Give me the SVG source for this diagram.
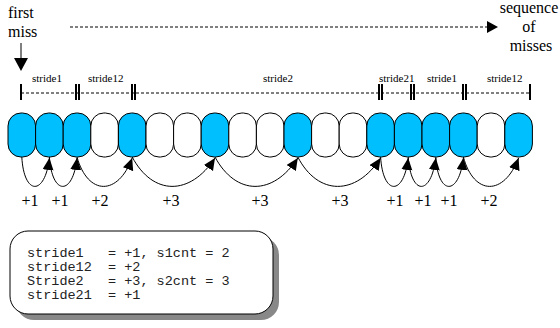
<svg xmlns="http://www.w3.org/2000/svg" width="560" height="328" viewBox="0 0 560 328">
<style>
.serif{font-family:Liberation Serif, DejaVu Serif, serif;fill:#000}
.big{font-size:16px}
.small{font-size:11px}
.cell{stroke:#000;stroke-width:1}
.blue{fill:#00bfff}
.white{fill:#fff}
.conn{fill:none;stroke:#000;stroke-width:1}
.dash{fill:none;stroke:#000;stroke-width:1;stroke-dasharray:3,2}
.tick{stroke:#000;stroke-width:2}
.mono{font-family:Liberation Mono, DejaVu Sans Mono, monospace;font-size:13.5px;fill:#222;white-space:pre}
</style>
<defs>
<marker id="ah" markerUnits="userSpaceOnUse" markerWidth="13" markerHeight="12" refX="12" refY="5.5" orient="auto">
<path d="M0,0 L12,5.5 L0,11 z" fill="#000"/>
</marker>
</defs>
<rect width="560" height="328" fill="#fff"/>

<g id="first-miss" font-family="Liberation Serif, serif">
<text class="serif big" x="8" y="18">first</text>
<text class="serif big" x="8" y="37">miss</text>
<line x1="21" y1="43" x2="21" y2="60" stroke="#000" stroke-width="1"/>
<path d="M14,58 L28,58 L21,71 z" fill="#000"/>
</g>

<g id="sequence" font-family="Liberation Serif, serif">
<line class="dash" x1="70" y1="27" x2="488" y2="27"/>
<path d="M487,21 L498,27 L487,33 z" fill="#000"/>
<text class="serif big" x="529" y="13" text-anchor="middle">sequence</text>
<text class="serif big" x="529" y="32" text-anchor="middle">of</text>
<text class="serif big" x="531" y="51" text-anchor="middle">misses</text>
</g>

<g id="strides" font-family="Liberation Serif, serif">
<line class="dash" x1="21" y1="93" x2="530" y2="93"/>
<line class="tick" x1="21" y1="84" x2="21" y2="100"/>
<line class="tick" x1="76" y1="84" x2="76" y2="100"/>
<line class="tick" x1="79" y1="84" x2="79" y2="100"/>
<line class="tick" x1="132" y1="84" x2="132" y2="100"/>
<line class="tick" x1="135" y1="84" x2="135" y2="100"/>
<line class="tick" x1="379" y1="84" x2="379" y2="100"/>
<line class="tick" x1="382" y1="84" x2="382" y2="100"/>
<line class="tick" x1="411" y1="84" x2="411" y2="100"/>
<line class="tick" x1="414" y1="84" x2="414" y2="100"/>
<line class="tick" x1="463" y1="84" x2="463" y2="100"/>
<line class="tick" x1="466" y1="84" x2="466" y2="100"/>
<line class="tick" x1="530" y1="84" x2="530" y2="100"/>
<text class="serif small" x="32" y="82">stride1</text>
<text class="serif small" x="88" y="82">stride12</text>
<text class="serif small" x="263" y="82">stride2</text>
<text class="serif small" x="379" y="82">stride21</text>
<text class="serif small" x="427" y="82">stride1</text>
<text class="serif small" x="487" y="82">stride12</text>
</g>

<g id="cells">
<rect id="c1" class="cell blue" x="8" y="113" width="27.6" height="44" rx="13"/>
<rect id="c2" class="cell blue" x="35.6" y="113" width="27.6" height="44" rx="13"/>
<rect id="c3" class="cell blue" x="63.2" y="113" width="27.6" height="44" rx="13"/>
<rect id="c4" class="cell white" x="90.8" y="113" width="27.6" height="44" rx="13"/>
<rect id="c5" class="cell blue" x="118.4" y="113" width="27.6" height="44" rx="13"/>
<rect id="c6" class="cell white" x="146" y="113" width="27.6" height="44" rx="13"/>
<rect id="c7" class="cell white" x="173.6" y="113" width="27.6" height="44" rx="13"/>
<rect id="c8" class="cell blue" x="201.2" y="113" width="27.6" height="44" rx="13"/>
<rect id="c9" class="cell white" x="228.8" y="113" width="27.6" height="44" rx="13"/>
<rect id="c10" class="cell white" x="256.4" y="113" width="27.6" height="44" rx="13"/>
<rect id="c11" class="cell blue" x="284" y="113" width="27.6" height="44" rx="13"/>
<rect id="c12" class="cell white" x="311.6" y="113" width="27.6" height="44" rx="13"/>
<rect id="c13" class="cell white" x="339.2" y="113" width="27.6" height="44" rx="13"/>
<rect id="c14" class="cell blue" x="366.8" y="113" width="27.6" height="44" rx="13"/>
<rect id="c15" class="cell blue" x="394.4" y="113" width="27.6" height="44" rx="13"/>
<rect id="c16" class="cell blue" x="422" y="113" width="27.6" height="44" rx="13"/>
<rect id="c17" class="cell blue" x="449.6" y="113" width="27.6" height="44" rx="13"/>
<rect id="c18" class="cell white" x="477.2" y="113" width="27.6" height="44" rx="13"/>
<rect id="c19" class="cell blue" x="504.8" y="113" width="27.6" height="44" rx="13"/>
</g>

<g id="connectors">
<path class="conn" marker-end="url(#ah)" d="M21.8,157 C24,196 45,196 49.4,158"/>
<path class="conn" marker-end="url(#ah)" d="M49.4,157 C52,196 73,196 77,158"/>
<path class="conn" marker-end="url(#ah)" d="M77,157 C88,196 118,196 132.2,158"/>
<path class="conn" marker-end="url(#ah)" d="M132.2,157 C153,196 190,196 215,158"/>
<path class="conn" marker-end="url(#ah)" d="M215,157 C236,196 273,196 297.8,158"/>
<path class="conn" marker-end="url(#ah)" d="M297.8,157 C318,196 356,196 380.6,158"/>
<path class="conn" marker-end="url(#ah)" d="M380.6,157 C383,196 404,196 408.2,158"/>
<path class="conn" marker-end="url(#ah)" d="M408.2,157 C411,196 431,196 435.8,158"/>
<path class="conn" marker-end="url(#ah)" d="M435.8,157 C438,196 459,196 463.4,158"/>
<path class="conn" marker-end="url(#ah)" d="M463.4,157 C474,196 504,196 518.6,158"/>
</g>

<g id="increments" font-family="Liberation Serif, serif">
<text class="serif big" x="30" y="206" text-anchor="middle">+1</text>
<text class="serif big" x="60" y="206" text-anchor="middle">+1</text>
<text class="serif big" x="100" y="206" text-anchor="middle">+2</text>
<text class="serif big" x="171" y="206" text-anchor="middle">+3</text>
<text class="serif big" x="260" y="206" text-anchor="middle">+3</text>
<text class="serif big" x="340" y="206" text-anchor="middle">+3</text>
<text class="serif big" x="395" y="206" text-anchor="middle">+1</text>
<text class="serif big" x="423" y="206" text-anchor="middle">+1</text>
<text class="serif big" x="449" y="206" text-anchor="middle">+1</text>
<text class="serif big" x="489" y="206" text-anchor="middle">+2</text>
</g>

<g id="legend" font-family="Liberation Mono, monospace">
<rect x="16" y="237" width="263" height="83" rx="18" fill="#888"/>
<rect x="10" y="231" width="263" height="83" rx="18" fill="#fff" stroke="#000" stroke-width="1"/>
<text class="mono" x="27" y="257">stride1   = +1, s1cnt = 2</text>
<text class="mono" x="27" y="271">stride12  = +2</text>
<text class="mono" x="27" y="285">Stride2   = +3, s2cnt = 3</text>
<text class="mono" x="27" y="299">stride21  = +1</text>
</g>
</svg>
